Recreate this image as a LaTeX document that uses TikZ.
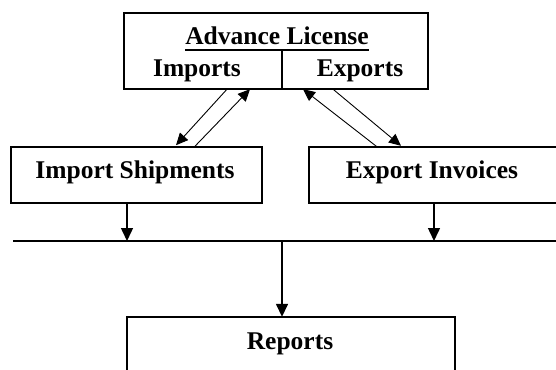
\documentclass[tikz,border=0pt]{standalone}
\usepackage{fontspec}
\setmainfont{Liberation Serif}
\usetikzlibrary{arrows.meta}
\begin{document}
\begin{tikzpicture}[x=1pt,y=-1pt,
 box/.style={draw, line width=1.6pt, inner sep=0pt},
 area/.style={inner sep=0pt},
 lbl/.style={font=\fontsize{25.5}{30}\selectfont\bfseries, inner sep=0pt, anchor=base},
 thinarrow/.style={line width=0.9pt, -{Triangle[length=12pt,width=11pt]}},
 thickarrow/.style={line width=1.5pt, -{Triangle[length=13pt,width=12pt]}},
 rule/.style={line width=1.6pt}]
\clip (0,0) rectangle (556,369);
\fill[white] (0,0) rectangle (556,369);
% top box
\node[box, minimum width=304pt, minimum height=76pt] (lic) at (276,51) {};
\node[area, minimum width=158pt, minimum height=39pt] (imps) at (203,69.5) {};
\node[area, minimum width=146pt, minimum height=39pt] (exps) at (355,69.5) {};
\draw[rule] (imps.north east) -- (imps.south east);
\node[lbl] (title) at (277,45) {Advance License};
\draw[line width=1.2pt] ([yshift=-5pt]title.base west) -- ([yshift=-5pt]title.base east);
\node[lbl] (imptxt) at (197,76) {Imports};
\node[lbl] (exptxt) at (360,76) {Exports};
% middle boxes
\node[box, minimum width=251pt, minimum height=56pt] (ship) at (136.5,175) {};
\node[lbl] (shiptxt) at (135,178) {Import Shipments};
\node[area, minimum width=246pt, minimum height=56pt] (inv) at (432,175) {};
\draw[rule] (inv.north west) rectangle ([xshift=40pt]inv.south east);
\node[lbl] (invtxt) at (432,178) {Export Invoices};
% reports
\node[area, minimum width=328pt, minimum height=50pt] (rep) at (291,342) {};
\draw[rule] (rep.north west) rectangle ([yshift=-40pt]rep.south east);
\node[lbl] (reptxt) at (290,349) {Reports};
% bus
\coordinate (busL) at (13,241);
\coordinate (busR) at (570,241);
\coordinate (j1) at (127,241);
\coordinate (j2) at (434,241);
\coordinate (j3) at (282,241);
\draw[rule] (busL) -- (busR);
\draw[thickarrow] (ship.south -| j1) -- (j1);
\draw[thickarrow] (inv.south -| j2) -- (j2);
\draw[thickarrow] (j3) -- (rep.north -| j3);
% diagonals
\draw[thinarrow] ([xshift=24pt]imps.south) -- ([xshift=39.5pt,yshift=1pt]ship.north);
\draw[thinarrow] ([xshift=58.5pt]ship.north) -- ([xshift=47pt]imps.south);
\draw[thinarrow] ([xshift=-55pt]inv.north) -- ([xshift=-52pt]exps.south);
\draw[thinarrow] ([xshift=-22pt]exps.south) -- ([xshift=-31pt,yshift=1pt]inv.north);
\end{tikzpicture}
\end{document}
